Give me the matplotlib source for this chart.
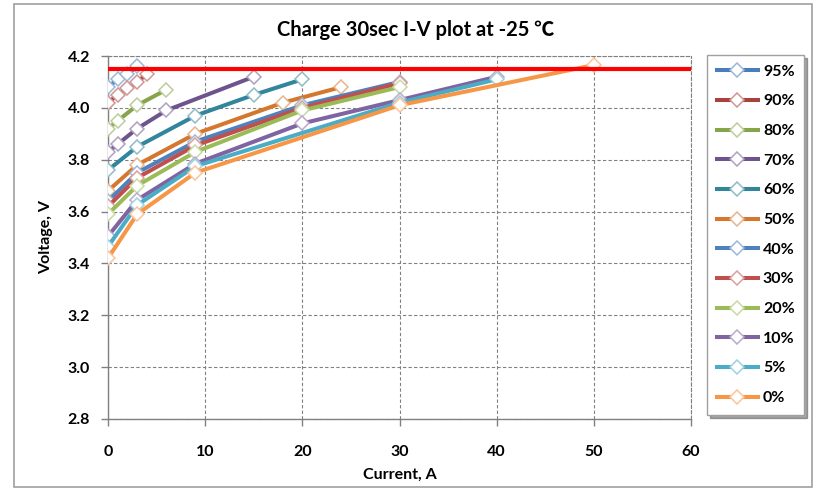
import matplotlib
matplotlib.use("Agg")
import matplotlib.pyplot as plt
from matplotlib.patches import Rectangle
import matplotlib.colors as mcolors
import numpy as np

plt.rcParams['font.family'] = ['Lato', 'DejaVu Sans']

labels = ['95%', '90%', '80%', '70%', '60%', '50%', '40%', '30%', '20%', '10%', '5%', '0%']
currents = [
    [0, 1, 2, 3],
    [0, 1, 2, 3, 4],
    [0, 1, 3, 6],
    [0, 1, 3, 6, 15],
    [0, 3, 9, 15, 20],
    [0, 3, 9, 18, 24],
    [0, 3, 9, 20, 30],
    [0, 3, 9, 20, 30],
    [0, 3, 9, 20, 30],
    [0, 3, 9, 20, 30, 40],
    [0, 3, 9, 30, 40],
    [0, 3, 9, 30, 50],
]
voltages = [
    [4.08, 4.11, 4.13, 4.16],
    [4.02, 4.05, 4.075, 4.10, 4.13],
    [3.92, 3.95, 4.01, 4.07],
    [3.83, 3.86, 3.92, 3.99, 4.12],
    [3.76, 3.85, 3.97, 4.05, 4.11],
    [3.68, 3.78, 3.90, 4.02, 4.08],
    [3.64, 3.75, 3.87, 4.01, 4.10],
    [3.62, 3.73, 3.855, 4.00, 4.095],
    [3.59, 3.70, 3.83, 3.99, 4.08],
    [3.505, 3.645, 3.785, 3.94, 4.03, 4.12],
    [3.465, 3.625, 3.775, 4.02, 4.11],
    [3.42, 3.59, 3.75, 4.01, 4.165],
]
colors = ['#4A7EBB', '#A8423F', '#86A44A', '#6E548D', '#31859C', '#D5782F',
          '#4F81BD', '#C0504D', '#9BBB59', '#8064A2', '#4BACC6', '#F79646']
limit_voltage = 4.15
limit_range = [0, 60]

def tint(c, f=0.45):
    r = np.array(mcolors.to_rgb(c))
    return tuple(r + (1 - r) * f)

fig = plt.figure(figsize=(8.16, 4.92), dpi=100)
fig.patches.append(Rectangle((14/816, 5/492), (812-14)/816, (488-5)/492, transform=fig.transFigure,
                             fill=False, edgecolor='#A0A0A0', linewidth=1.2))
ax = fig.add_axes([108/816, (492-419)/492, 583/816, 363/492])

for lab, xs, vs, c in zip(labels, currents, voltages, colors):
    ax.plot(xs, vs, color=c, linewidth=2.9, marker='D', markersize=7,
            markerfacecolor='white', markeredgecolor=tint(c), markeredgewidth=1.1,
            label=lab, solid_joinstyle='round', zorder=3)

ax.plot(limit_range, [limit_voltage, limit_voltage], color='#FF0000', linewidth=3, zorder=4)

ax.set_xlim(0, 60)
ax.set_ylim(2.8, 4.2)
ax.set_xticks(range(0, 61, 10))
ax.set_yticks(np.arange(2.8, 4.21, 0.2))
ax.set_yticklabels([f"{v:.1f}" for v in np.arange(2.8, 4.21, 0.2)])
ax.grid(True, linestyle=(0, (3, 2)), color='#808080', linewidth=0.8)
for s in ['top', 'right']:
    ax.spines[s].set_linestyle((0, (3, 2)))
    ax.spines[s].set_color('#808080')
    ax.spines[s].set_linewidth(0.8)
for s in ['left', 'bottom']:
    ax.spines[s].set_color('#808080')
    ax.spines[s].set_linewidth(1.0)
ax.tick_params(axis='both', colors='#808080', labelcolor='black', length=5, width=1,
               labelsize=11.5, pad=6)
for t in ax.get_xticklabels() + ax.get_yticklabels():
    t.set_fontweight('bold')
ax.tick_params(axis='x', pad=14)
ax.tick_params(axis='y', pad=8)

ax.set_xlabel('Current, A', fontsize=11.5, fontweight='bold', labelpad=6)
ax.set_ylabel('Voltage, V', fontsize=11.5, fontweight='bold', labelpad=10)
fig.text(416/816, 1 - 30/492, 'Charge 30sec I-V plot at -25 ℃', ha='center', va='center',
         fontsize=14.5, fontweight='bold', family=['Lato', 'Noto Sans CJK SC', 'DejaVu Sans'])

handles, labs = ax.get_legend_handles_labels()
leg = fig.legend(handles[:12], labs[:12], loc='upper left',
                 bbox_to_anchor=(707/816, 1 - 55/492), frameon=True, fancybox=False,
                 shadow=True, prop={'weight': 'bold', 'size': 11.5}, handlelength=2.6,
                 labelspacing=0.97, borderpad=0.6, handletextpad=0.3, borderaxespad=0)
leg.get_frame().set_edgecolor('#A0A0A0')
leg.get_frame().set_linewidth(1.0)

fig.savefig('out.png', dpi=100)
